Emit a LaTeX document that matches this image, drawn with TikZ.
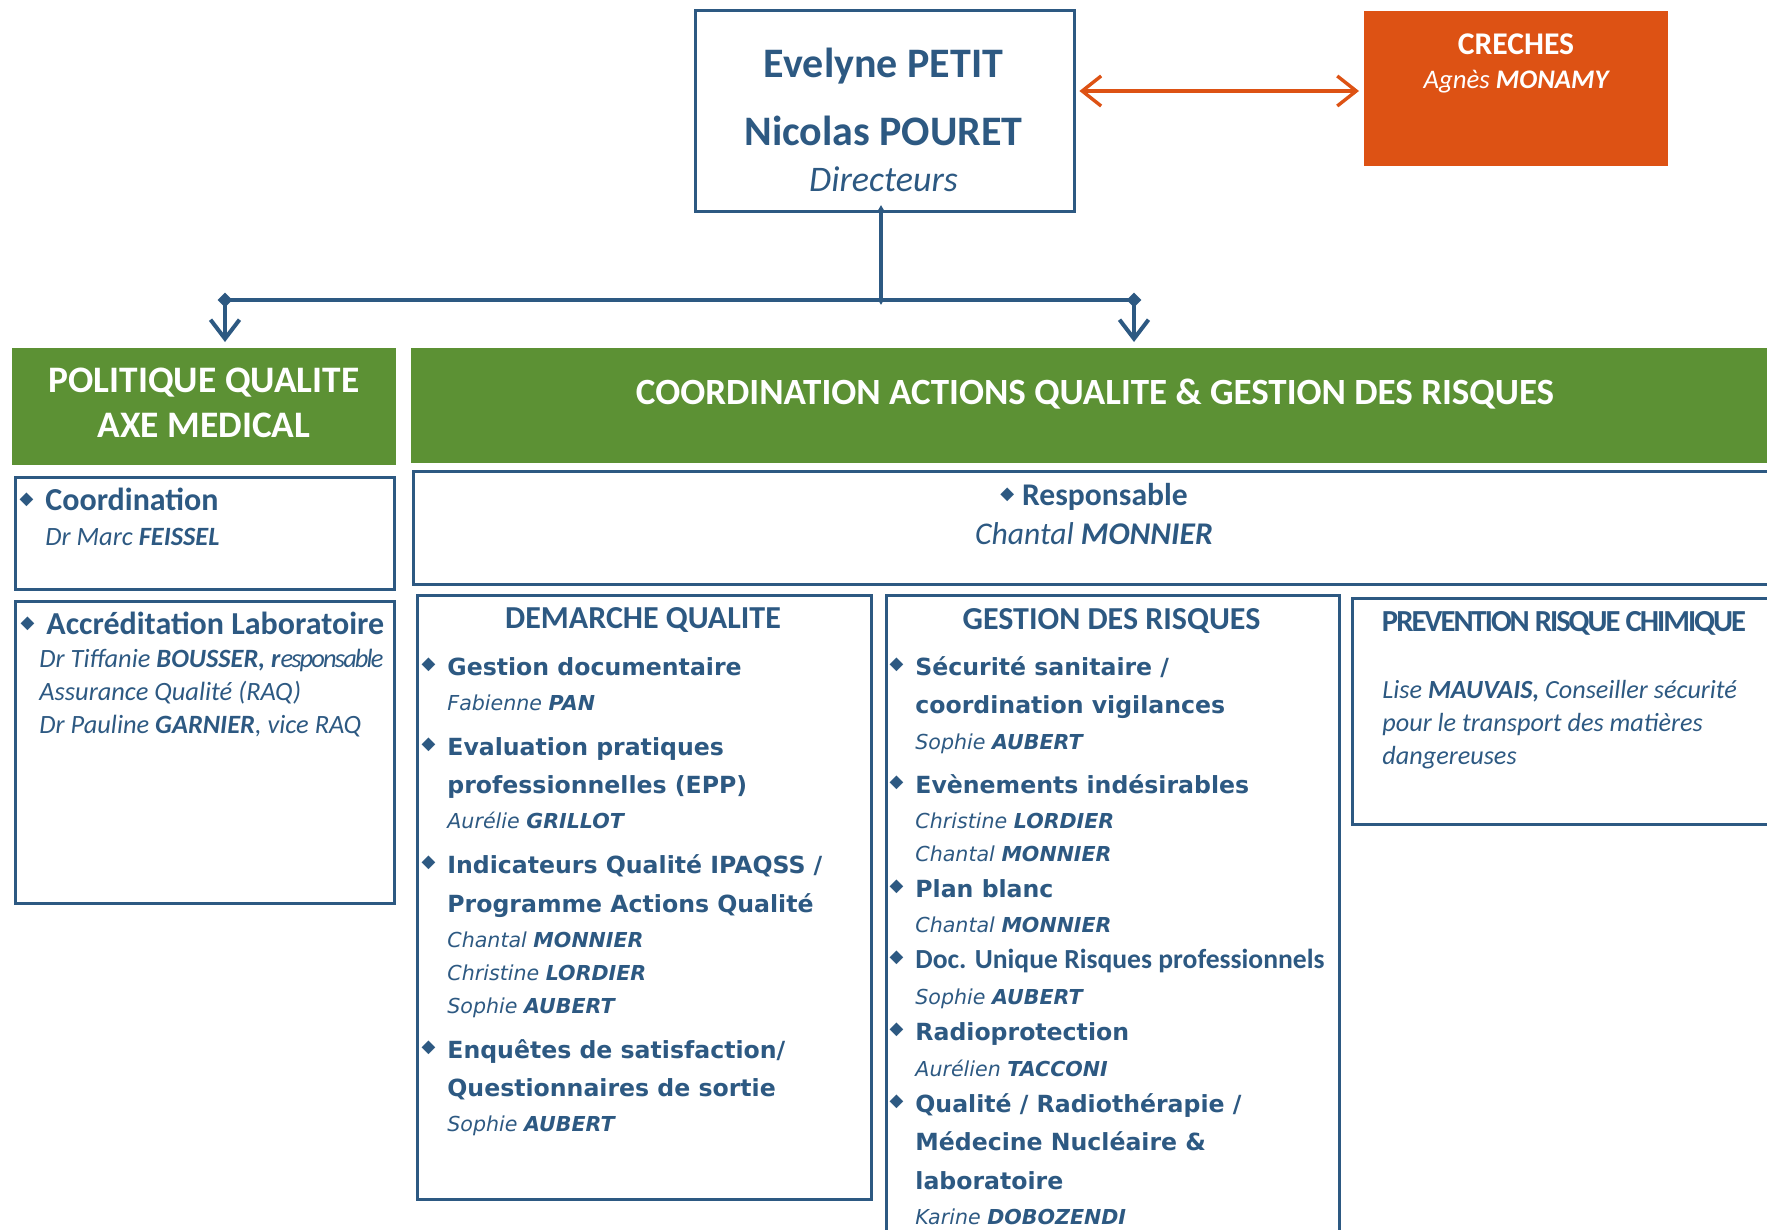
\documentclass[tikz,border=0pt]{standalone}
\usepackage{fontspec}
\setmainfont{Carlito}
\newfontfamily\verd{DejaVu Sans}[BoldFont={DejaVu Sans Bold},ItalicFont={DejaVu Sans Oblique},BoldItalicFont={DejaVu Sans Bold Oblique}]
\usetikzlibrary{arrows.meta,shapes.geometric}

\definecolor{navy}{RGB}{45,89,130}
\definecolor{leaf}{RGB}{92,145,52}
\definecolor{rust}{RGB}{221,82,20}

% bullets and name lines
\newcommand{\bulsym}{\raisebox{2.8pt}{\verd\fontsize{9}{9}\selectfont\char"25C6}}
\newcommand{\bul}{\llap{\bulsym\hspace{6pt}}}
\newcommand{\nm}[2]{{\fontsize{10.3}{17}\selectfont\mdseries\itshape #1 \bfseries #2}}
\newcommand{\cname}{\fontsize{13.2}{16.5}\selectfont\mdseries\itshape}

\begin{document}
\begin{tikzpicture}[
    x=0.5pt, y=-0.5pt,
    framebox/.style={draw=navy, line width=1.7pt, inner sep=0, anchor=north west},
    greenbox/.style={fill=leaf, inner sep=0, anchor=north west},
    txt/.style={inner sep=0, text=navy},
    conn/.style={draw=navy, line width=2pt},
    downarrow/.style={conn, -{Straight Barb[length=9.5pt, width=14.5pt]}, shorten >=3pt},
    linkarrow/.style={draw=rust, line width=1.7pt, {Straight Barb[length=9.5pt, width=15pt]}-{Straight Barb[length=9.5pt, width=15pt]}, shorten <=1.5pt, shorten >=2.5pt},
    dmd/.style={diamond, fill=navy, inner sep=0, minimum width=7.5pt, minimum height=7.5pt},
    tick/.style={diamond, fill=navy, inner sep=0, minimum width=3pt, minimum height=5pt}
]
    \path[use as bounding box] (0,0) rectangle (1767,1230);
    \clip (0,0) rectangle (1767,1230);

    % boxes
    \node[framebox, minimum width=189.5pt, minimum height=100.5pt] (dir) at (694,9) {};
    \node[fill=rust, inner sep=0, anchor=north west, minimum width=152pt, minimum height=77.5pt] (cre) at (1364,11) {};
    \node[greenbox, minimum width=192pt, minimum height=58.5pt] (pol) at (12,348) {};
    \node[greenbox, minimum width=685pt, minimum height=57.5pt] (cqr) at (411,348) {};
    \node[framebox, minimum width=189.5pt, minimum height=56pt] (coo) at (14,476) {};
    \node[framebox, minimum width=189.5pt, minimum height=151pt] (acc) at (14,600) {};
    \node[framebox, minimum width=685pt, minimum height=56.5pt] (resp) at (412,470) {};
    \node[framebox, minimum width=227pt, minimum height=302pt] (dq) at (416,594) {};
    \node[framebox, minimum width=226.5pt, minimum height=325pt] (gr) at (885,594) {};
    \node[framebox, minimum width=215pt, minimum height=113pt] (prc) at (1351,597) {};

    % top texts (multi-line nodes sit on their last line)
    \node[txt, anchor=base, align=center, font=\fontsize{21}{23}\selectfont\bfseries] (dirtxt) at (883.5,192)
        {Evelyne PETIT\\[11pt] Nicolas POURET\\ {\mdseries\itshape\fontsize{18}{23}\selectfont Directeurs}};
    \node[txt, text=white, anchor=base, align=center, font=\fontsize{15.8}{17}\selectfont] (cretxt) at (1516,89)
        {\textbf{CRECHES}\\ {\fontsize{13.4}{17}\selectfont\itshape Agnès \textbf{MONAMY}}};
    \node[txt, text=white, anchor=base, align=center, font=\fontsize{18.7}{22}\selectfont\bfseries] (poltxt) at (204,437)
        {POLITIQUE QUALITE\\AXE MEDICAL};
    \node[txt, text=white, anchor=base, font=\fontsize{18.5}{22}\selectfont\bfseries] (cqrtxt) at (1095,404)
        {COORDINATION ACTIONS QUALITE \& GESTION DES RISQUES};

    % left column
    \node[txt, anchor=base west, align=left, font=\fontsize{16}{17.5}\selectfont\bfseries] (cootxt) at (45,545)
        {\bul Coordination\\ {\cname Dr Marc \textbf{FEISSEL}}};
    \node[txt, anchor=base west, align=left, font=\fontsize{16}{16.5}\selectfont\bfseries] (acctxt) at (46,733)
        {\bul Accréditation Laboratoire\\
         {\cname\kern-3.5pt Dr Tiffanie \textbf{BOUSSER, r}{\addfontfeature{LetterSpace=-7}esponsable}}\\
         {\cname\kern-3.5pt Assurance Qualité (RAQ)}\\
         {\cname\kern-3.5pt Dr Pauline \textbf{GARNIER}, vice RAQ}};

    % responsable
    \node[txt, anchor=base, align=center, font=\fontsize{15.8}{19.5}\selectfont\bfseries] (resptxt) at (1094,544)
        {\bulsym\hspace{4pt}Responsable\\ {\mdseries\itshape Chantal \textbf{MONNIER}}};

    % column titles
    \node[txt, anchor=base, font=\fontsize{16}{17}\selectfont\bfseries] (dqtitle) at (643,628) {DEMARCHE QUALITE};
    \node[txt, anchor=base, font=\fontsize{16}{17}\selectfont\bfseries] (grtitle) at (1111.5,629) {GESTION DES RISQUES};
    \node[txt, anchor=base, font=\fontsize{15.3}{17}\selectfont\bfseries] (prctitle) at (1564,631)
        {\addfontfeature{LetterSpace=-6.5}PREVENTION RISQUE CHIMIQUE};

    % demarche qualite
    \node[txt, anchor=base west, align=left, font=\verd\fontsize{11.8}{17}\selectfont\bfseries] (dqtxt) at (447,1131)
        {\bul Gestion documentaire\\[0.5pt]
         \nm{Fabienne}{PAN}\\[5.5pt]
         \bul Evaluation pratiques\\[2pt]
         professionnelles (EPP)\\[0.5pt]
         \nm{Aurélie}{GRILLOT}\\[5.5pt]
         \bul Indicateurs Qualité IPAQSS /\\[2.5pt]
         Programme Actions Qualité\\[0.5pt]
         \nm{Chantal}{MONNIER}\\[-0.5pt]
         \nm{Christine}{LORDIER}\\[-0.5pt]
         \nm{Sophie}{AUBERT}\\[5.5pt]
         \bul Enquêtes de satisfaction/\\[2pt]
         Questionnaires de sortie\\[0.5pt]
         \nm{Sophie}{AUBERT}};

    % gestion des risques
    \node[txt, anchor=base west, align=left, font=\verd\fontsize{11.8}{17}\selectfont\bfseries] (grtxt) at (915,1224)
        {\bul Sécurité sanitaire /\\[2pt]
         coordination vigilances\\[1pt]
         \nm{Sophie}{AUBERT}\\[5pt]
         \bul Evènements indésirables\\[0.5pt]
         \nm{Christine}{LORDIER}\\[-0.5pt]
         \nm{Chantal}{MONNIER}\\[1pt]
         \bul Plan blanc\\[0.5pt]
         \nm{Chantal}{MONNIER}\\[1pt]
         \bul {\rmfamily\fontsize{13.8}{17}\selectfont Doc. Unique Risques professionnels}\\[1pt]
         \nm{Sophie}{AUBERT}\\[1pt]
         \bul Radioprotection\\[1pt]
         \nm{Aurélien}{TACCONI}\\[1pt]
         \bul Qualité / Radiothérapie /\\[2pt]
         Médecine Nucléaire \&\\[2.5pt]
         laboratoire\\[0.5pt]
         \nm{Karine}{DOBOZENDI}};

    % prevention
    \node[txt, anchor=base west, align=left, font=\fontsize{13.1}{16.5}\selectfont\itshape] (prctxt) at (1382,764)
        {Lise \textbf{MAUVAIS,} Conseiller sécurité\\pour le transport des matières\\dangereuses};

    % connectors
    \coordinate (lk) at (0,91);
    \draw[linkarrow] (dir.east |- lk) -- (cre.west |- lk);

    \node[dmd] (dl) at (225,300) {};
    \node[dmd] (dr) at (1134,300) {};
    \node[tick] (jt) at (881,210) {};
    \node[tick] (jb) at (881,300) {};
    \draw[conn] (jt.center) -- (jb.center);
    \draw[conn] (dl.center) -- (dr.center);
    \draw[downarrow] (dl.center) -- (dl.center |- pol.north);
    \draw[downarrow] (dr.center) -- (dr.center |- cqr.north);
\end{tikzpicture}
\end{document}
